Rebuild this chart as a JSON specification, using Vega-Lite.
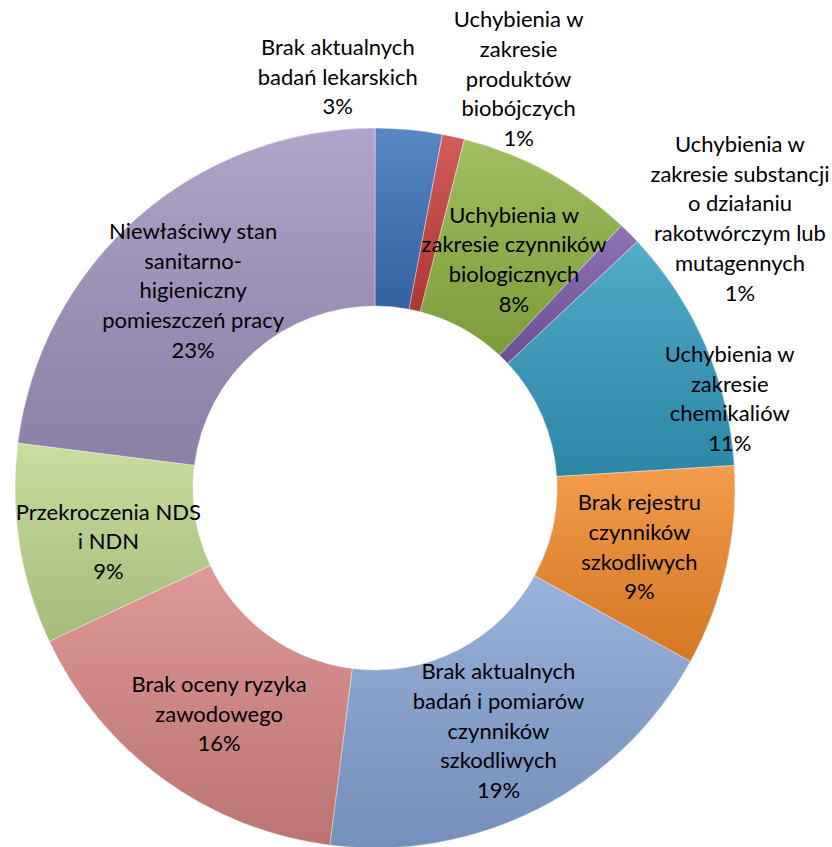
{
  "$schema": "https://vega.github.io/schema/vega-lite/v6.json",
  "autosize": {"type": "none"},
  "width": 720,
  "height": 720,
  "padding": {"left": 15, "top": 128, "right": 97, "bottom": 0},
  "background": "#ffffff",
  "config": {
    "view": {"stroke": null},
    "text": {"font": "Lato", "fontSize": 22, "lineBreak": "\n", "lineHeight": 29.7, "color": "#000000"}
  },
  "data": {
    "values": [
      {"kategoria": "Brak aktualnych badań lekarskich", "udzial": 3, "opis": "Brak aktualnych\nbadań lekarskich"},
      {"kategoria": "Uchybienia w zakresie produktów biobójczych", "udzial": 1, "opis": "Uchybienia w\nzakresie\nproduktów\nbiobójczych"},
      {"kategoria": "Uchybienia w zakresie czynników biologicznych", "udzial": 8, "opis": "Uchybienia w\nzakresie czynników\nbiologicznych"},
      {"kategoria": "Uchybienia w zakresie substancji o działaniu rakotwórczym lub mutagennych", "udzial": 1, "opis": "Uchybienia w\nzakresie substancji\no działaniu\nrakotwórczym lub\nmutagennych"},
      {"kategoria": "Uchybienia w zakresie chemikaliów", "udzial": 11, "opis": "Uchybienia w\nzakresie\nchemikaliów"},
      {"kategoria": "Brak rejestru czynników szkodliwych", "udzial": 9, "opis": "Brak rejestru\nczynników\nszkodliwych"},
      {"kategoria": "Brak aktualnych badań i pomiarów czynników szkodliwych", "udzial": 19, "opis": "Brak aktualnych\nbadań i pomiarów\nczynników\nszkodliwych"},
      {"kategoria": "Brak oceny ryzyka zawodowego", "udzial": 16, "opis": "Brak oceny ryzyka\nzawodowego"},
      {"kategoria": "Przekroczenia NDS i NDN", "udzial": 9, "opis": "Przekroczenia NDS\ni NDN"},
      {"kategoria": "Niewłaściwy stan sanitarno-higieniczny pomieszczeń pracy", "udzial": 23, "opis": "Niewłaściwy stan\nsanitarno-\nhigieniczny\npomieszczeń pracy"}
    ]
  },
  "transform": [
    {"window": [{"op": "row_number", "as": "kolejnosc"}]},
    {"calculate": "datum.opis + '\\n' + datum.udzial + '%'", "as": "etykieta"}
  ],
  "encoding": {
    "theta": {"field": "udzial", "type": "quantitative", "stack": true},
    "order": {"field": "kolejnosc", "type": "quantitative"}
  },
  "layer": [
    {
      "mark": {"type": "arc", "innerRadius": 182, "outerRadius": 360, "stroke": "#ffffff", "strokeWidth": 1, "strokeOpacity": 0.45},
      "encoding": {
        "color": {
          "field": "kategoria",
          "type": "nominal",
          "legend": null,
          "scale": {
            "domain": [
              "Brak aktualnych badań lekarskich",
              "Uchybienia w zakresie produktów biobójczych",
              "Uchybienia w zakresie czynników biologicznych",
              "Uchybienia w zakresie substancji o działaniu rakotwórczym lub mutagennych",
              "Uchybienia w zakresie chemikaliów",
              "Brak rejestru czynników szkodliwych",
              "Brak aktualnych badań i pomiarów czynników szkodliwych",
              "Brak oceny ryzyka zawodowego",
              "Przekroczenia NDS i NDN",
              "Niewłaściwy stan sanitarno-higieniczny pomieszczeń pracy"
            ],
            "range": ["#3A71BB", "#C8403E", "#90B444", "#7B5AA8", "#339BC0", "#F38A2A", "#87A5D6", "#D98684", "#BFD88E", "#A293BF"]
          }
        }
      }
    },
    {
      "mark": {
        "type": "arc",
        "innerRadius": 182,
        "outerRadius": 360,
        "fill": {
          "gradient": "linear",
          "x1": 0, "y1": 0, "x2": 0, "y2": 1,
          "stops": [
            {"offset": 0, "color": "rgba(255,255,255,0.16)"},
            {"offset": 1, "color": "rgba(0,0,0,0.13)"}
          ]
        }
      },
      "encoding": {}
    },
    {
      "mark": {"type": "text", "radius": 412, "dx": -76, "dy": -30},
      "encoding": {"text": {"condition": {"test": "datum.kolejnosc === 1", "field": "etykieta"}, "value": ""}}
    },
    {
      "mark": {"type": "text", "radius": 420, "dx": 52, "dy": -58},
      "encoding": {"text": {"condition": {"test": "datum.kolejnosc === 2", "field": "etykieta"}, "value": ""}}
    },
    {
      "mark": {"type": "text", "radius": 272, "dx": 8, "dy": -34},
      "encoding": {"text": {"condition": {"test": "datum.kolejnosc === 3", "field": "etykieta"}, "value": ""}}
    },
    {
      "mark": {"type": "text", "radius": 420, "dx": 68, "dy": -46},
      "encoding": {"text": {"condition": {"test": "datum.kolejnosc === 4", "field": "etykieta"}, "value": ""}}
    },
    {
      "mark": {"type": "text", "radius": 380, "dx": 6, "dy": 18},
      "encoding": {"text": {"condition": {"test": "datum.kolejnosc === 5", "field": "etykieta"}, "value": ""}}
    },
    {
      "mark": {"type": "text", "radius": 272, "dx": -1, "dy": -44},
      "encoding": {"text": {"condition": {"test": "datum.kolejnosc === 6", "field": "etykieta"}, "value": ""}}
    },
    {
      "mark": {"type": "text", "radius": 272, "dx": 0, "dy": -58},
      "encoding": {"text": {"condition": {"test": "datum.kolejnosc === 7", "field": "etykieta"}, "value": ""}}
    },
    {
      "mark": {"type": "text", "radius": 272, "dx": 4, "dy": -23},
      "encoding": {"text": {"condition": {"test": "datum.kolejnosc === 8", "field": "etykieta"}, "value": ""}}
    },
    {
      "mark": {"type": "text", "radius": 272, "dx": 2, "dy": -18},
      "encoding": {"text": {"condition": {"test": "datum.kolejnosc === 9", "field": "etykieta"}, "value": ""}}
    },
    {
      "mark": {"type": "text", "radius": 272, "dx": -2, "dy": -52},
      "encoding": {"text": {"condition": {"test": "datum.kolejnosc === 10", "field": "etykieta"}, "value": ""}}
    }
  ]
}
